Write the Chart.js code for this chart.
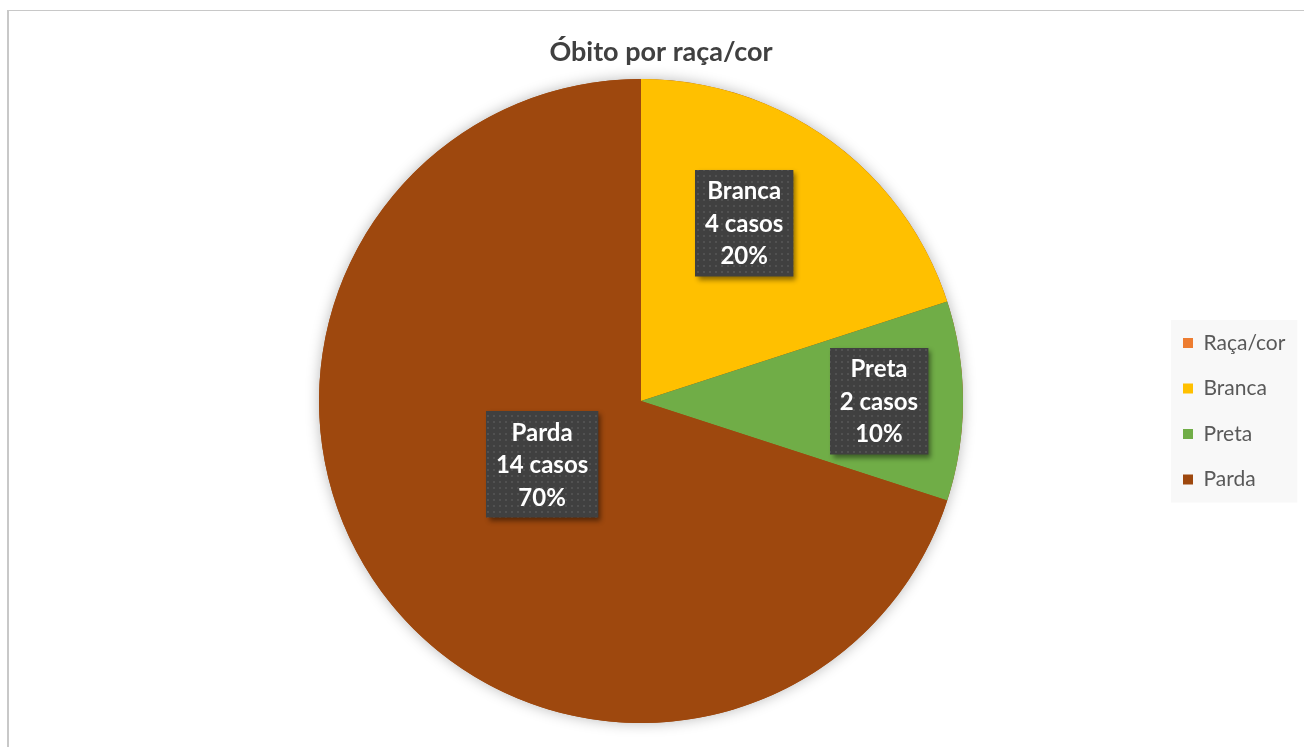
<!DOCTYPE html>
<html>
<head>
<meta charset="utf-8">
<script src="https://cdn.jsdelivr.net/npm/chart.js@4.4.1/dist/chart.umd.min.js"></script>
<style>
    html, body { margin: 0; padding: 0; background: #fff; overflow: hidden; }
    #frame { position: absolute; left: 7px; top: 10px; width: 1400px; height: 800px;
             border-left: 2px solid #c8c8c8; border-top: 1px solid #c8c8c8; }
    #chart { position: absolute; left: 0; top: 0; }
</style>
</head>
<body>
<div id="frame"></div>
<canvas id="chart" width="1304" height="747"></canvas>
<script>
var CATEGORIES = ["Raça/cor", "Branca", "Preta", "Parda"];
var CASES = [0, 4, 2, 14];
var COLORS = ["#ED7D31", "#FFC000", "#70AD47", "#9E480E"];
var TITLE = "Óbito por raça/cor";

const FONT = "Lato, 'Open Sans', sans-serif";
const LEGEND_PAD = 24.5;
const LEGEND_FONT = 21;

// pie centre x wanted at 641, legend square at 1183
const chartRight = 1183 - LEGEND_PAD;
const padLeft = 2 * 641 - chartRight;

function measure(font, texts) {
    var ctx = document.createElement("canvas").getContext("2d");
    ctx.font = font;
    return Math.max.apply(null, texts.map(t => ctx.measureText(t).width));
}
// chart.js adds 10px to the width of a vertical legend
var legendWidth = LEGEND_PAD + 10 + LEGEND_FONT / 2 + measure(LEGEND_FONT + "px " + FONT, CATEGORIES) + 10;
var padRight = 1304 - chartRight - legendWidth;

function dotPattern(ctx) {
    var c = document.createElement("canvas");
    c.width = 6; c.height = 6;
    var g = c.getContext("2d");
    g.fillStyle = "rgba(255,255,255,0.09)";
    g.fillRect(1, 1, 2, 2);
    return ctx.createPattern(c, "repeat");
}

// title is centred on the whole frame, not on the padded area
const titleSpan = {
    id: "titleSpan",
    afterLayout(chart) {
        chart.titleBlock.left = 7;
        chart.titleBlock.right = 1315;
        chart.titleBlock.width = 1308;
    }
};

// soft shadow around the whole pie
const pieShadow = {
    id: "pieShadow",
    beforeDatasetsDraw(chart) {
        var arc = chart.getDatasetMeta(0).data[0];
        if (!arc) return;
        var ctx = chart.ctx;
        ctx.save();
        ctx.shadowColor = "rgba(0,0,0,0.28)";
        ctx.shadowBlur = 14;
        ctx.fillStyle = COLORS[3];
        ctx.beginPath();
        ctx.arc(arc.x, arc.y, arc.outerRadius, 0, Math.PI * 2);
        ctx.fill();
        ctx.restore();
    }
};

// light grey box behind the legend items
const legendBg = {
    id: "legendBg",
    beforeDraw(chart) {
        var boxes = chart.legend.legendHitBoxes;
        if (!boxes || !boxes.length) return;
        var left = boxes[0].left - 12;
        var right = Math.max.apply(null, boxes.map(b => b.left + b.width)) + 12;
        var top = boxes[0].top - 12.5;
        var last = boxes[boxes.length - 1];
        var bottom = last.top + last.height + 12.5;
        var ctx = chart.ctx;
        ctx.save();
        ctx.fillStyle = "#f8f8f8";
        ctx.fillRect(left, top, right - left, bottom - top);
        ctx.restore();
    }
};

// dark data labels with name, cases and percentage
const pieLabels = {
    id: "pieLabels",
    afterDatasetsDraw(chart, args, opts) {
        var ctx = chart.ctx;
        var data = chart.data.datasets[0].data;
        var total = data.reduce((a, b) => a + b, 0);
        chart.getDatasetMeta(0).data.forEach((arc, i) => {
            if (!data[i]) return;
            var p = arc.getProps(["x", "y", "startAngle", "endAngle", "outerRadius"], true);
            var mid = (p.startAngle + p.endAngle) / 2 + opts.angleShift[i] * Math.PI / 180;
            var r = p.outerRadius * opts.radius[i];
            var cx = p.x + Math.cos(mid) * r;
            var cy = p.y + Math.sin(mid) * r;
            var lines = [chart.data.labels[i], data[i] + " casos", Math.round(data[i] / total * 100) + "%"];
            ctx.save();
            ctx.font = "bold 24px " + FONT;
            var w = Math.max.apply(null, lines.map(l => ctx.measureText(l).width)) + 20;
            var h = lines.length * 32.5 + 9;
            var x0 = Math.round(cx - w / 2), y0 = Math.round(cy - h / 2);
            ctx.shadowColor = "rgba(0,0,0,0.45)";
            ctx.shadowBlur = 5;
            ctx.shadowOffsetX = 3;
            ctx.shadowOffsetY = 3;
            ctx.fillStyle = "#404040";
            ctx.fillRect(x0, y0, w, h);
            ctx.shadowColor = "transparent";
            ctx.fillStyle = dotPattern(ctx);
            ctx.fillRect(x0, y0, w, h);
            ctx.fillStyle = "#ffffff";
            ctx.textAlign = "center";
            ctx.textBaseline = "middle";
            lines.forEach((l, k) => ctx.fillText(l, cx, cy + 1 + (k - 1) * 32.5));
            ctx.restore();
        });
    }
};

new Chart(document.getElementById("chart"), {
    type: "pie",
    data: {
        labels: CATEGORIES,
        datasets: [{
            data: CASES,
            backgroundColor: COLORS,
            borderWidth: 0,
            hoverOffset: 0
        }]
    },
    options: {
        responsive: false,
        animation: false,
        devicePixelRatio: 1,
        layout: { padding: { left: padLeft, right: padRight, top: 0, bottom: 24 } },
        plugins: {
            title: {
                display: true,
                text: TITLE,
                color: "#404040",
                font: { family: FONT, size: 27, weight: "bold" },
                padding: { top: 36, bottom: 10.6 }
            },
            legend: {
                position: "right",
                fullSize: false,
                title: { display: true, text: "", font: { size: 10 }, padding: { top: 8.5, bottom: 0 } },
                labels: {
                    boxWidth: 10,
                    boxHeight: 10,
                    padding: LEGEND_PAD,
                    color: "#595959",
                    font: { family: FONT, size: LEGEND_FONT }
                }
            },
            tooltip: { enabled: false },
            pieLabels: {
                radius: [0, 0.639, 0.739, 0.365],
                angleShift: [0, -5.9, 0, 3.3]
            }
        }
    },
    plugins: [titleSpan, legendBg, pieShadow, pieLabels]
});
</script>
</body>
</html>
